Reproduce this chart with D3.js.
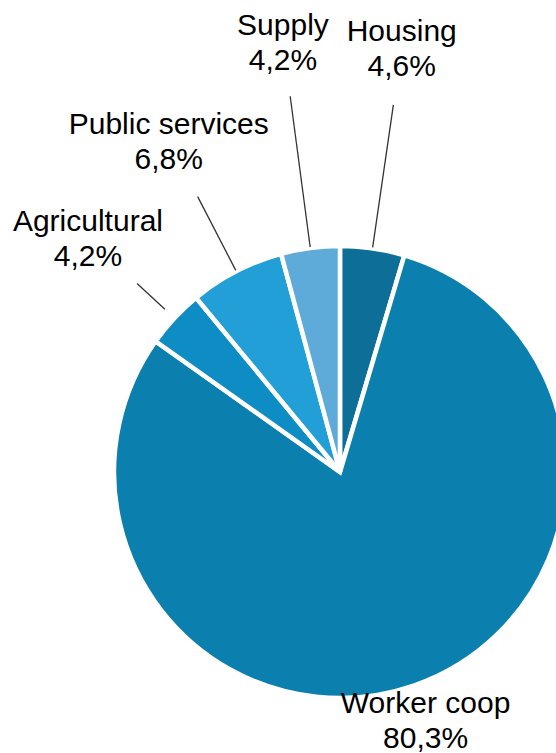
<!DOCTYPE html>
<html>
<head>
<meta charset="utf-8">
<script src="https://cdn.jsdelivr.net/npm/d3@7"></script>
<style>
  html, body { margin: 0; padding: 0; background: #fff; overflow: hidden; }
  svg { display: block; }
  text { font-family: "Liberation Sans", Arial, Helvetica, sans-serif; fill: #000; }
</style>
</head>
<body>
<svg id="chart" width="556" height="753"></svg>
<script>
// Share of cooperatives by type (%), clockwise from 12 o'clock
const categories = ["Housing", "Worker coop", "Agricultural", "Public services", "Supply"];
const shares = [4.6, 80.3, 4.2, 6.8, 4.2];
const valueLabels = ["4,6%", "80,3%", "4,2%", "6,8%", "4,2%"];
const colors = ["#0d6f98", "#0b80ae", "#0e8cc4", "#229fd6", "#5eabda"];

// Label placement along each slice's mid-angle (radius of text block centre, leader-line span)
const labelRadius = [429, 262, 344, 373, 434];
const leaderInner = [227, null, 239, 227, 227];
const leaderOuter = [371, null, 277, 310, 379];

const width = 556, height = 753;
const cx = 340, cy = 472, radius = 226;
const fontSize = 30, lineGap = 35;

const svg = d3.select("#chart");
const g = svg.append("g").attr("transform", `translate(${cx},${cy})`);

const pie = d3.pie().sort(null).value(d => d.value);
const arc = d3.arc().innerRadius(0).outerRadius(radius);

const data = categories.map((c, i) => ({
  name: c, value: shares[i], label: valueLabels[i], color: colors[i], idx: i
}));
const arcs = pie(data);

g.selectAll("path.slice")
  .data(arcs)
  .join("path")
  .attr("class", "slice")
  .attr("d", arc)
  .attr("fill", d => d.data.color)
  .attr("stroke", "#fff")
  .attr("stroke-width", 4.5)
  .attr("stroke-linejoin", "miter");

const midAngle = d => (d.startAngle + d.endAngle) / 2;
const polar = (a, r) => [Math.sin(a) * r, -Math.cos(a) * r];

// Leader lines
g.selectAll("line.leader")
  .data(arcs.filter(d => leaderInner[d.data.idx] != null))
  .join("line")
  .attr("class", "leader")
  .attr("x1", d => polar(midAngle(d), leaderInner[d.data.idx])[0])
  .attr("y1", d => polar(midAngle(d), leaderInner[d.data.idx])[1])
  .attr("x2", d => polar(midAngle(d), leaderOuter[d.data.idx])[0])
  .attr("y2", d => polar(midAngle(d), leaderOuter[d.data.idx])[1])
  .attr("stroke", "#333")
  .attr("stroke-width", 1.3);

// Two-line labels: category name and share
const labels = g.selectAll("text.label")
  .data(arcs)
  .join("text")
  .attr("class", "label")
  .attr("text-anchor", "middle")
  .attr("font-size", fontSize)
  .attr("transform", d => {
    const [x, y] = polar(midAngle(d), labelRadius[d.data.idx]);
    return `translate(${x},${y})`;
  });

labels.append("tspan")
  .attr("x", 0)
  .attr("y", -lineGap / 2 + fontSize * 0.36)
  .text(d => d.data.name);

labels.append("tspan")
  .attr("x", 0)
  .attr("y", lineGap / 2 + fontSize * 0.36)
  .text(d => d.data.label);
</script>
</body>
</html>
